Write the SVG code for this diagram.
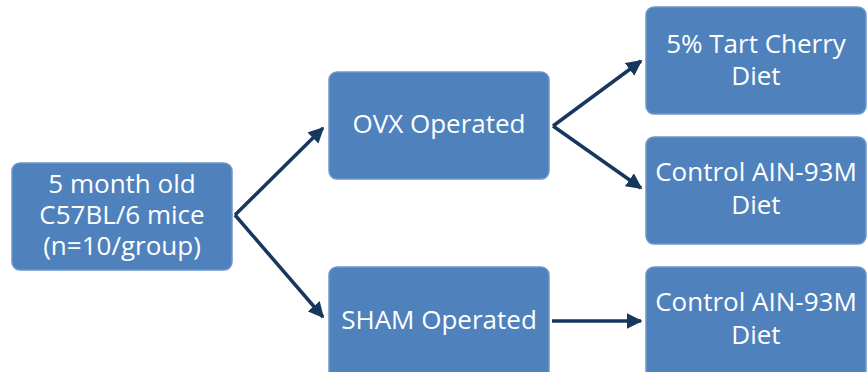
<svg xmlns="http://www.w3.org/2000/svg" width="867" height="372" viewBox="0 0 867 372">
<style>
.box{fill:#4F81BD;stroke:#6F96C8;stroke-width:1.5}
.t{fill:#fff;font-family:"Open Sans","Liberation Sans",sans-serif;font-size:26px;text-anchor:middle;dominant-baseline:central}
.c{stroke:#17375E;stroke-width:3.5;fill:none}
</style>
<defs>
<marker id="ah" viewBox="0 0 10 10" refX="9" refY="5" markerWidth="4.5" markerHeight="4.5" markerUnits="strokeWidth" orient="auto">
<path d="M0,0 L10,5 L0,10 Z" fill="#17375E"/>
</marker>
</defs>
<g id="connectors">
<path class="c" d="M235,215 L323,128" marker-end="url(#ah)"/>
<path class="c" d="M235,215 L323,317" marker-end="url(#ah)"/>
<path class="c" d="M553,126 L641,61" marker-end="url(#ah)"/>
<path class="c" d="M553,126 L641,188" marker-end="url(#ah)"/>
<path class="c" d="M552,321 L641,321" marker-end="url(#ah)"/>
</g>
<g id="mice">
<rect class="box" x="12" y="163" width="220" height="107" rx="8"/>
<text class="t" x="122" y="183">5 month old</text>
<text class="t" x="122" y="214">C57BL/6 mice</text>
<text class="t" x="122" y="245">(n=10/group)</text>
</g>
<g id="ovx">
<rect class="box" x="329" y="72" width="220" height="107" rx="8"/>
<text class="t" x="439" y="123">OVX Operated</text>
</g>
<g id="sham">
<rect class="box" x="329" y="267" width="220" height="120" rx="8"/>
<text class="t" x="439" y="319">SHAM Operated</text>
</g>
<g id="tart">
<rect class="box" x="646" y="7" width="220" height="107" rx="8"/>
<text class="t" x="756" y="43">5% Tart Cherry</text>
<text class="t" x="756" y="75">Diet</text>
</g>
<g id="control1">
<rect class="box" x="646" y="137" width="220" height="107" rx="8"/>
<text class="t" x="756" y="171">Control AIN-93M</text>
<text class="t" x="756" y="204">Diet</text>
</g>
<g id="control2">
<rect class="box" x="646" y="267" width="220" height="120" rx="8"/>
<text class="t" x="756" y="301">Control AIN-93M</text>
<text class="t" x="756" y="334">Diet</text>
</g>
</svg>
